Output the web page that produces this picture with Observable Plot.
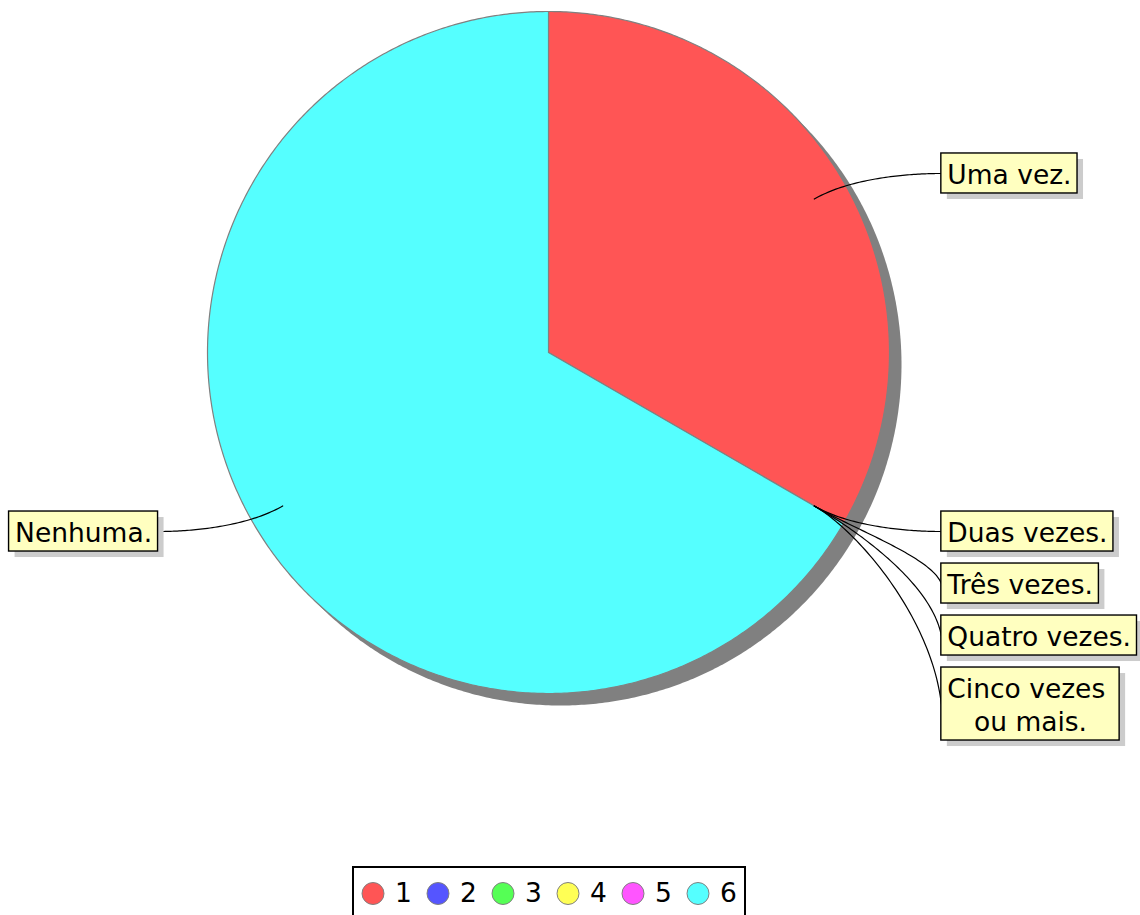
<!DOCTYPE html>
<html><head><meta charset="utf-8">
<script src="https://cdn.jsdelivr.net/npm/d3@7"></script>
<script src="https://cdn.jsdelivr.net/npm/@observablehq/plot@0.6"></script>
<style>
html,body{margin:0;padding:0;background:#fff;overflow:hidden;}
#chart svg text, #chart svg tspan{white-space:pre;}
</style></head><body><div id="chart"></div>
<script>
// ---- data ----
const categories = ["Uma vez.", "Duas vezes.", "Três vezes.", "Quatro vezes.", "Cinco vezes \nou mais.", "Nenhuma."];
const seriesKeys = ["1", "2", "3", "4", "5", "6"];
const values = [1, 0, 0, 0, 0, 2];
const colors = ["#ff5555", "#5555ff", "#55ff55", "#ffff55", "#ff55ff", "#55ffff"];

// ---- layout ----
const W = 1140, H = 915;
const CX = 548, CY = 352, R = 341;
const FONT = 26.5, LINE_H = 33, PAD_X = 6, GAP = 12;
const ctx = document.createElement("canvas").getContext("2d");
ctx.font = `${FONT}px "DejaVu Sans"`;
const total = d3.sum(values);
const pt = (a, r) => [CX + r * Math.sin(a), CY - r * Math.cos(a)];

let acc = 0;
const slices = values.map((v, i) => {
  const a0 = acc / total * 2 * Math.PI; acc += v;
  const a1 = acc / total * 2 * Math.PI;
  return {i, key: seriesKeys[i], label: categories[i], value: v, a0, a1, mid: (a0 + a1) / 2};
});

// slice polygons
const slicePts = [];
for (const s of slices) {
  if (s.value <= 0) continue;
  const n = Math.max(2, Math.ceil((s.a1 - s.a0) / (Math.PI / 360)));
  slicePts.push({key: s.key, x: CX, y: CY});
  for (let k = 0; k <= n; k++) {
    const [x, y] = pt(s.a0 + (s.a1 - s.a0) * k / n, R);
    slicePts.push({key: s.key, x, y});
  }
  slicePts.push({key: s.key, x: CX, y: CY});
}
// shadow disk
const SH = 12;
const shadowPts = d3.range(0, 721).map(k => {
  const [x, y] = pt(k / 720 * 2 * Math.PI, R);
  return {x: x + SH, y: y + SH};
});

// label boxes
const boxes = slices.map(s => {
  const lines = s.label.split("\n");
  const w = d3.max(lines, l => ctx.measureText(l).width) + 2 * PAD_X;
  const h = lines.length * LINE_H + 7;
  const right = Math.sin(s.mid) >= 0;
  const desired = CY - Math.cos(s.mid) * 1.05 * R;
  return {...s, w, h, right, desired};
});
for (const side of [true, false]) {
  const list = boxes.filter(b => b.right === side).sort((a, b) => a.desired - b.desired || a.i - b.i);
  let prevBottom = -Infinity;
  for (const b of list) {
    b.y1 = Math.max(b.desired - b.h / 2, prevBottom + GAP);
    b.y2 = b.y1 + b.h;
    prevBottom = b.y2;
    if (side) { b.x1 = CX + 1.152 * R; b.x2 = b.x1 + b.w; }
    else { b.x2 = CX - 1.145 * R; b.x1 = b.x2 - b.w; }
    b.cx = (b.x1 + b.x2) / 2; b.cy = (b.y1 + b.y2) / 2;
  }
}

// connector curves (cubic bezier)
const linkPts = [];
for (const b of boxes) {
  const P0 = pt(b.mid, 0.9 * R), P1 = pt(b.mid, 1.05 * R);
  const P3 = [b.right ? b.x1 : b.x2, b.cy];
  const dir = b.right ? 1 : -1;
  const P2 = [P3[0] - 10 * dir, P3[1] - 0.5 * (P3[1] - P1[1])];
  for (let k = 0; k <= 60; k++) {
    const t = k / 60, u = 1 - t;
    const c0 = u * u * u, c1 = 3 * u * u * t, c2 = 3 * u * t * t, c3 = t * t * t;
    linkPts.push({key: b.key, x: c0 * P0[0] + c1 * P1[0] + c2 * P2[0] + c3 * P3[0], y: c0 * P0[1] + c1 * P1[1] + c2 * P2[1] + c3 * P3[1]});
  }
}

// legend
const LEG_STEP = 65, LEG_W = 392;
const legLeft = CX - LEG_W / 2 + 1, legTop = 867, legY = 893;
const legend = seriesKeys.map((k, i) => ({key: k, x: legLeft + 19.5 + i * LEG_STEP}));

const chart = Plot.plot({
  width: W, height: H, margin: 0,
  x: {type: "linear", domain: [0, W], range: [0, W], axis: null},
  y: {type: "linear", domain: [0, H], range: [0, H], axis: null},
  color: {domain: seriesKeys, range: colors},
  style: {fontFamily: "DejaVu Sans", background: "white", overflow: "hidden"},
  marks: [
    Plot.line(shadowPts, {x: "x", y: "y", fill: "#808080", stroke: "none"}),
    Plot.line(slicePts, {x: "x", y: "y", z: "key", fill: "key", stroke: "#808080", strokeWidth: 1.2}),
    Plot.line(linkPts, {x: "x", y: "y", z: "key", stroke: "black", strokeWidth: 1.2}),
    Plot.rect(boxes, {x1: d => d.x1 + 6, x2: d => d.x2 + 6, y1: d => d.y1 + 6, y2: d => d.y2 + 6, fill: "#cccccc"}),
    Plot.rect(boxes, {x1: "x1", x2: "x2", y1: "y1", y2: "y2", fill: "#ffffc0", stroke: "black", strokeWidth: 1.4}),
    Plot.text(boxes, {x: "cx", y: "cy", text: "label", textAnchor: "middle", lineAnchor: "middle", fontSize: FONT, lineHeight: LINE_H / FONT, fill: "black"}),
    Plot.rect([0], {x1: legLeft, x2: legLeft + LEG_W, y1: legTop, y2: H + 20, fill: "none", stroke: "black", strokeWidth: 2}),
    Plot.dot(legend, {x: "x", y: legY, r: 11, fill: "key", stroke: "#808080", strokeWidth: 1}),
    Plot.text(legend, {x: d => d.x + 22, y: legY, text: "key", textAnchor: "start", fontSize: FONT, fill: "black"})
  ]
});
document.getElementById("chart").appendChild(chart);
</script></body></html>
